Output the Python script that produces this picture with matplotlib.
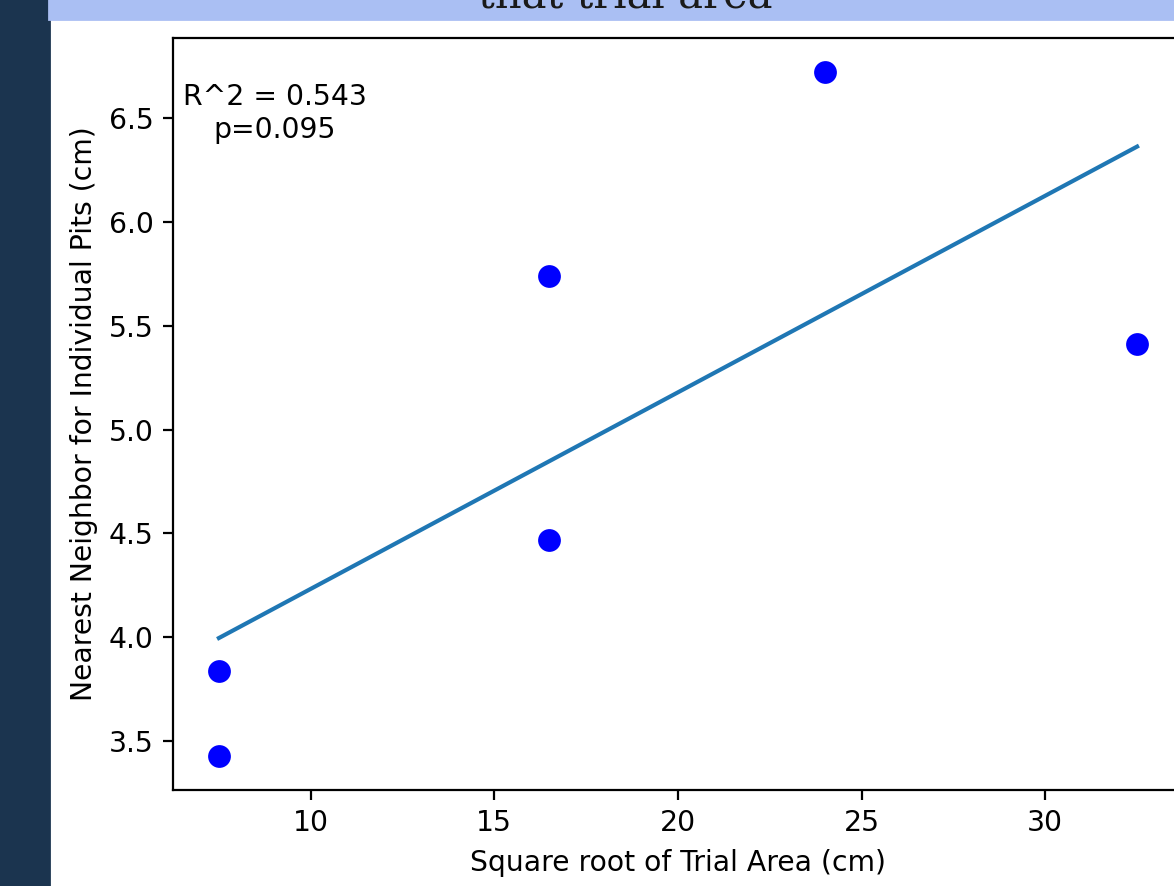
import numpy as np
import matplotlib
matplotlib.use("Agg")
import matplotlib.pyplot as plt
from matplotlib.patches import Rectangle

# trial data
trial_side = [7.5, 7.5, 16.5, 16.5, 24.0, 32.5]   # square root of trial area (cm)
nearest_nn = [3.43, 3.84, 4.47, 5.74, 6.72, 5.41]  # nearest neighbour distance (cm)
stats_text = "R^2 = 0.543\np=0.095"
banner_text = "that trial area"

plt.rcParams["font.size"] = 10.2

fig = plt.figure(figsize=(5.87, 4.43), dpi=200)

# page background pieces from the screenshot
fig.patches.append(Rectangle((0, 0), 49 / 1174, 1, transform=fig.transFigure,
                             color="#1b344f", zorder=0))
fig.patches.append(Rectangle((49 / 1174, 1 - 19 / 886), 1, 19 / 886,
                             transform=fig.transFigure, color="#aabff3", zorder=0))
# heading above is cut off by the screenshot, only its bottom shows
fig.text(625 / 1174, 1 - 8 / 886, banner_text, ha="center", va="baseline",
         family="DejaVu Serif", fontsize=15, color="#1a1a1a")

ax = fig.add_axes([173 / 1174, 96 / 886, 1010 / 1174, 752 / 886])

# fit line through the points
x = np.array(trial_side)
y = np.array(nearest_nn)
slope, intercept = np.polyfit(x, y, 1)
xs = np.array([x.min(), x.max()])
ax.plot(xs, slope * xs + intercept)

ax.plot(x, y, "bo", markersize=7.2)

ax.text(0.01, 0.94, stats_text, transform=ax.transAxes, ha="left", va="top",
        multialignment="center")

ax.set_xlabel("Square root of Trial Area (cm)")
ax.set_ylabel("Nearest Neighbor for Individual Pits (cm)")
ax.set_xticks([10, 15, 20, 25, 30])

fig.savefig("out.png", dpi=200)
